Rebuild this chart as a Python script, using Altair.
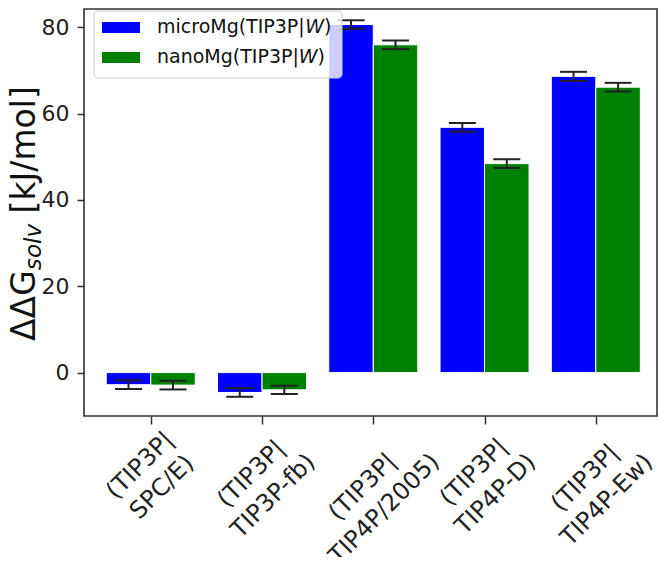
import math
import altair as alt
import pandas as pd

# ---------------- data ----------------
models = ["SPC/E", "TIP3P-fb", "TIP4P/2005", "TIP4P-D", "TIP4P-Ew"]
series = ["microMg", "nanoMg"]
micro_vals = [-2.8, -4.6, 80.6, 56.8, 68.6]
micro_errs = [1.0, 1.0, 1.0, 1.0, 1.05]
nano_vals = [-2.9, -4.0, 75.9, 48.4, 66.1]
nano_errs = [1.0, 0.95, 1.0, 1.0, 1.0]
colors = ["#0000ff", "#008000"]
y_ticks = [0, 20, 40, 60, 80]

rows = []
for i, m in enumerate(models):
    rows.append(dict(idx=i, model=m, series=series[0], value=micro_vals[i], err=micro_errs[i], side=0))
    rows.append(dict(idx=i, model=m, series=series[1], value=nano_vals[i], err=nano_errs[i], side=1))
df = pd.DataFrame(rows)

# ---------------- layout helpers ----------------
FONT = "DejaVu Sans"
ADV = {"m": 1995, "i": 569, "c": 1126, "r": 842, "o": 1253, "M": 1767, "g": 1300,
       "(": 799, "T": 1251, "I": 604, "P": 1235, "3": 1303, "4": 1303, "|": 690,
       "W": 2025, ")": 799, "n": 1298, "a": 1255, "Δ": 1401, "G": 1595, "s": 1067,
       "l": 569, "v": 1212, " ": 651, "[": 799, "k": 1186, "J": 604, "/": 690,
       "]": 799, "S": 1300, "C": 1430, "E": 1294, "-": 739, "f": 721, "b": 1300,
       "2": 1303, "0": 1303, "5": 1303, "D": 1577, "w": 1675}


def tw(s, size):
    return sum(ADV.get(c, 1250) for c in s) / 2048.0 * size


BAR_W = 0.4
TICK_FS = 22
XLBL_FS = 24
LBL_LH = 31
R2 = 2 * math.sqrt(2)

label_lines = [["(TIP3P|", m + ")"] for m in models]
label_js = "[" + ",".join("[" + ",".join("'" + s + "'" for s in ll) + "]" for ll in label_lines) + "]"
block_h = LBL_LH + XLBL_FS
# rotated, centre-aligned two-line blocks whose top touches the axis pad
pads = [round((max(tw(s, XLBL_FS) for s in ll) + block_h) / R2 - 7.6, 1) for ll in label_lines]
pad_js = "[" + ",".join(str(p) for p in pads) + "]"

x_scale = alt.Scale(domain=[-0.6, 4.55], nice=False, zero=False)
y_scale = alt.Scale(domain=[-10.05, 84.2], nice=False, zero=False)

x_axis = alt.Axis(values=list(range(len(models))), labelExpr=label_js + "[datum.value]",
                  labelAngle=315, labelAlign="center", labelBaseline="middle",
                  labelPadding=alt.ExprRef(pad_js + "[datum.value]"),
                  labelOffset=-round(LBL_LH / R2, 1),
                  labelLineHeight=LBL_LH, labelFontSize=XLBL_FS, labelColor="#222222",
                  labelOverlap=False, labelFlush=False, title=None, grid=False, domain=False,
                  tickSize=8, tickColor="#333333", tickWidth=1.5)
y_axis = alt.Axis(values=y_ticks, labelFontSize=TICK_FS, labelColor="#222222", labelPadding=8,
                  title=None, grid=False, domain=False, tickSize=7, tickColor="#333333",
                  tickWidth=1.5)

base = alt.Chart(df).transform_calculate(
    x0=f"datum.idx - {BAR_W} + datum.side * {BAR_W}",
    x1=f"datum.idx + datum.side * {BAR_W}",
    xc=f"datum.idx - {BAR_W / 2} + datum.side * {BAR_W}",
    lo="datum.value - datum.err",
    hi="datum.value + datum.err",
)

bars = base.mark_bar(stroke="white", strokeWidth=1).encode(
    x=alt.X("x0:Q", scale=x_scale, axis=x_axis),
    x2="x1:Q",
    y=alt.Y("value:Q", scale=y_scale, axis=y_axis),
    y2=alt.datum(0),
    color=alt.Color("series:N", scale=alt.Scale(domain=series, range=colors), legend=None),
)

err_color = "#222222"
rule = base.mark_rule(color=err_color, strokeWidth=2).encode(
    x=alt.X("xc:Q", scale=x_scale, axis=x_axis),
    y=alt.Y("lo:Q", scale=y_scale, axis=y_axis),
    y2="hi:Q",
)
cap_lo = base.mark_tick(orient="horizontal", size=27, thickness=2, color=err_color, opacity=1).encode(
    x=alt.X("xc:Q", scale=x_scale, axis=x_axis),
    y=alt.Y("lo:Q", scale=y_scale, axis=y_axis),
)
cap_hi = base.mark_tick(orient="horizontal", size=27, thickness=2, color=err_color, opacity=1).encode(
    x=alt.X("xc:Q", scale=x_scale, axis=x_axis),
    y=alt.Y("hi:Q", scale=y_scale, axis=y_axis),
)

one = pd.DataFrame({"k": [0]})


def txt(text, x, y, size, style="normal", angle=0, baseline="alphabetic"):
    return alt.Chart(one).mark_text(
        text=text, align="left", baseline=baseline, fontSize=size, fontStyle=style,
        angle=angle, color="#111111", font=FONT,
    ).encode(x=alt.value(x), y=alt.value(y))


# ---------------- legend (manual, for the italic W) ----------------
LEG_FS = 19
legend_box = alt.Chart(one).mark_rect(
    fill="white", fillOpacity=0.8, stroke="#cccccc", strokeWidth=1, cornerRadius=4
).encode(x=alt.value(10), x2=alt.value(258), y=alt.value(2), y2=alt.value(69))

legend_layers = [legend_box]
LX = 73
for k, (name, col) in enumerate(zip(series, colors)):
    sy = 13 + 30 * k
    legend_layers.append(
        alt.Chart(one).mark_rect(fill=col).encode(
            x=alt.value(18), x2=alt.value(56), y=alt.value(sy), y2=alt.value(sy + 11))
    )
    base_y = 24.3 + 30 * k
    head = name + "(TIP3P|"
    wx = LX + tw(head, LEG_FS)
    legend_layers.append(txt(head, LX, base_y, LEG_FS))
    legend_layers.append(txt("W", wx, base_y, LEG_FS, style="italic"))
    legend_layers.append(txt(")", wx + tw("W", LEG_FS), base_y, LEG_FS))

# ---------------- y title: ΔΔG_solv [kJ/mol] ----------------
TF = 33
SF = TF * 0.7
g_center = 274
t_start = g_center + tw("G", TF) / 2 + tw("ΔΔ", TF)
sub_start = t_start - tw("ΔΔG", TF)
unit_start = sub_start - tw("solv", SF) - tw(" ", TF)
TX = -49
title_layers = [
    txt("ΔΔG", TX, t_start, TF, angle=270),
    txt("solv", TX + 6, sub_start, SF, style="italic", angle=270),
    txt("[kJ/mol]", TX, unit_start, TF, angle=270),
]

chart = alt.layer(bars, rule, cap_lo, cap_hi, *legend_layers, *title_layers).properties(
    width=573,
    height=407,
    padding={"left": 76, "top": 1, "right": 1, "bottom": 141},
    autosize=alt.AutoSizeParams(type="none"),
).configure(font=FONT).configure_view(stroke="#333333", strokeWidth=1.6)

chart.save("out.html", embed_options={"renderer": "svg", "actions": False})
